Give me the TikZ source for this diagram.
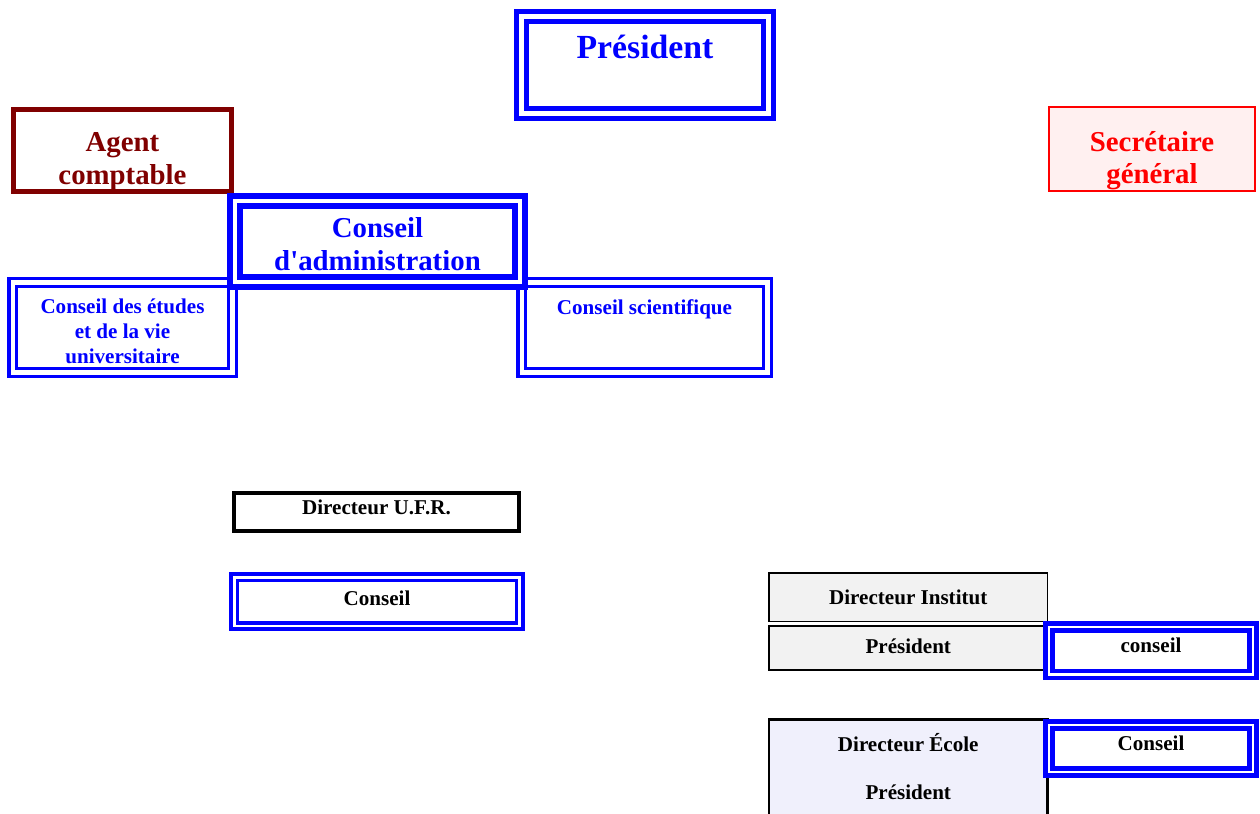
\documentclass[tikz,border=0pt]{standalone}
\usepackage{fontspec}
\setmainfont{Liberation Serif}[Ligatures=TeXOff]
\usetikzlibrary{positioning}
\definecolor{boxBlue}{RGB}{0,0,255}
\definecolor{agentRed}{RGB}{128,0,0}
\definecolor{secRed}{RGB}{255,0,0}
\definecolor{secFill}{RGB}{255,240,240}
\definecolor{instGray}{RGB}{242,242,242}
\definecolor{ecoleFill}{RGB}{240,240,252}

\tikzset{
    box/.style={draw, rectangle, inner sep=0pt, align=center, fill=white},
    dblbox/.style={box, draw=boxBlue, double=white},
    bigtxt/.style={font=\fontsize{16.4}{18.7}\selectfont\bfseries},
    smalltxt/.style={font=\fontsize{12}{14.2}\selectfont\bfseries},
    cell/.style={box, draw=black, line width=1.1pt, fill=instGray, smalltxt}
}

\begin{document}
\begin{tikzpicture}[x=0.02cm, y=-0.02cm]
    \useasboundingbox (0,0) rectangle (1260,814);

    % Top level
    \node[box, draw=agentRed, line width=2.8pt, text=agentRed, bigtxt, minimum width=4.36cm, minimum height=1.64cm, text height=42pt] (agent) at (122.5,150.5) {Agent\\comptable};
    \node[box, draw=secRed, line width=1.1pt, fill=secFill, text=secRed, bigtxt, minimum width=4.12cm, minimum height=1.68cm, text height=43.4pt] (secr) at (1152,149) {Secrétaire\\général};

    % Councils
    \node[dblbox, line width=2pt, double distance=2.3pt, text=boxBlue, smalltxt, minimum width=4.4cm, minimum height=1.8cm, text height=41.4pt] (etudes) at (122.5,327.5) {Conseil des études\\et de la vie\\universitaire};
    \node[dblbox, line width=2pt, double distance=2.3pt, text=boxBlue, smalltxt, minimum width=4.92cm, minimum height=1.8cm, text height=9pt, text depth=24pt] (scient) at (644.5,327.5) {Conseil scientifique};
    \node[dblbox, line width=3.4pt, double distance=2.3pt, text=boxBlue, bigtxt, minimum width=5.7cm, minimum height=1.62cm, text height=32.7pt] (admin) at (377.5,241.5) {Conseil\\d'administration};
    \node[dblbox, line width=2.8pt, double distance=2.8pt, text=boxBlue, font=\fontsize{19.2}{22}\selectfont\bfseries, minimum width=4.94cm, minimum height=1.94cm, text height=13pt, text depth=20pt] (pres) at (645,65) {Président};

    % U.F.R.
    \node[box, line width=2.3pt, smalltxt, minimum width=5.7cm, minimum height=0.76cm, text height=8.5pt, text depth=5.1pt] (ufr) at (376.5,512) {Directeur U.F.R.};
    \node[dblbox, line width=2pt, double distance=1.7pt, smalltxt, minimum width=5.72cm, minimum height=0.98cm, text height=8.5pt, text depth=4.5pt] (ufrconseil) at (377,601.5) {Conseil};

    % Institut
    \node[cell, minimum width=5.57cm, minimum height=0.97cm, text height=8.8pt, text depth=0pt] (inst) at (908.25,597.25) {Directeur Institut};
    \node[cell, minimum width=5.57cm, minimum height=0.88cm, text height=8.5pt, text depth=2.3pt, below=0.06cm of inst] (instpres) {Président};
    \node[dblbox, line width=2.55pt, double distance=1.4pt, smalltxt, minimum width=4.08cm, minimum height=0.95cm, text height=8.5pt, text depth=5.9pt] (instconseil) at (1151,650.7) {conseil};

    % Ecole
    \node[cell, line width=1.4pt, fill=ecoleFill, font=\fontsize{12}{27.8}\selectfont\bfseries, minimum width=5.57cm, minimum height=1.99cm, text height=35pt] (ecole) at (908.25,769.25) {Directeur École\\Président};
    \node[dblbox, line width=2.55pt, double distance=1.4pt, smalltxt, minimum width=4.08cm, minimum height=0.94cm, text height=8.5pt, text depth=6.8pt] (ecoleconseil) at (1151,748.5) {Conseil};
\end{tikzpicture}
\end{document}
